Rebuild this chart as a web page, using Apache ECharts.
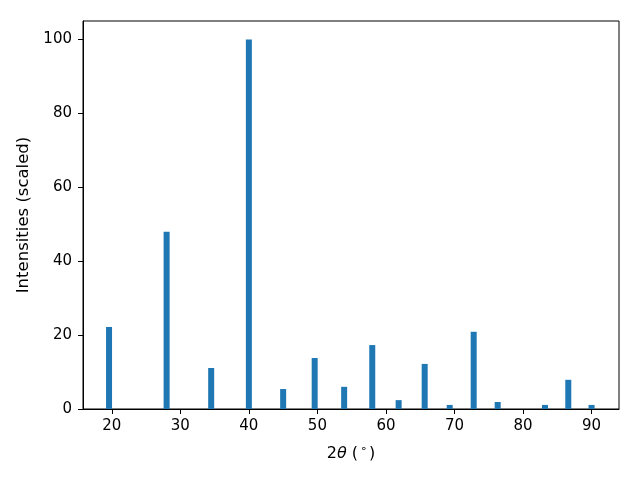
<!DOCTYPE html>
<html><head><meta charset="utf-8">
<script src="https://cdn.jsdelivr.net/npm/echarts@6/dist/echarts.min.js"></script>
<style>html,body{margin:0;padding:0;background:#fff}#c{width:640px;height:480px}</style>
</head><body><div id="c"></div>
<script>
const twoTheta = [19.6, 28.0, 34.5, 40.0, 45.0, 49.6, 53.9, 58.0, 61.85, 65.65, 69.3, 72.8, 76.3, 83.2, 86.6, 90.0];
const intensity = [22.2, 48.0, 11.1, 100, 5.4, 13.8, 6.0, 17.3, 2.4, 12.2, 1.1, 20.9, 1.9, 1.1, 7.9, 1.1];
const xTicks = [20, 30, 40, 50, 60, 70, 80, 90];
const yTicks = [0, 20, 40, 60, 80, 100];

const chart = echarts.init(document.getElementById('c'), null, {renderer: 'canvas'});
const font = 'DejaVu Sans';
const fs = 15;
chart.setOption({
  animation: false,
  backgroundColor: '#fff',
  grid: {left: 83, right: 21, top: 21, bottom: 71, show: true, borderColor: '#000', borderWidth: 1, backgroundColor: 'transparent'},
  xAxis: {
    type: 'value', min: 15.8, max: 94.0,
    axisLine: {show: true, lineStyle: {color: '#000', width: 1}},
    axisTick: {show: true, inside: false, length: 5, lineStyle: {color: '#000'}, customValues: xTicks},
    axisLabel: {color: '#000', fontFamily: font, fontSize: fs, margin: 10, customValues: xTicks},
    splitLine: {show: false},
    name: '2{i|θ} ({s|∘})',
    nameLocation: 'middle', nameGap: 35,
    nameTextStyle: {color: '#000', fontFamily: font, fontSize: 16, verticalAlign: 'top',
      rich: {i: {fontStyle: 'italic', fontFamily: font, fontSize: 16, color: '#000'},
             s: {fontFamily: font, fontSize: 11, color: '#000', padding: [0,2,8,2]}}}
  },
  yAxis: {
    type: 'value', min: 0, max: 105,
    axisLine: {show: true, lineStyle: {color: '#000', width: 1}},
    axisTick: {show: true, inside: false, length: 5, lineStyle: {color: '#000'}, customValues: yTicks},
    axisLabel: {color: '#000', fontFamily: font, fontSize: fs, margin: 11, customValues: yTicks},
    splitLine: {show: false},
    name: 'Intensities (scaled)', nameLocation: 'middle', nameGap: 47,
    nameTextStyle: {color: '#000', fontFamily: font, fontSize: 16.5}
  },
  series: [{
    type: 'bar',
    data: twoTheta.map((x, i) => [x, intensity[i]]),
    barWidth: 6,
    itemStyle: {color: '#1f77b4'}
  }]
});
</script>
</body></html>
